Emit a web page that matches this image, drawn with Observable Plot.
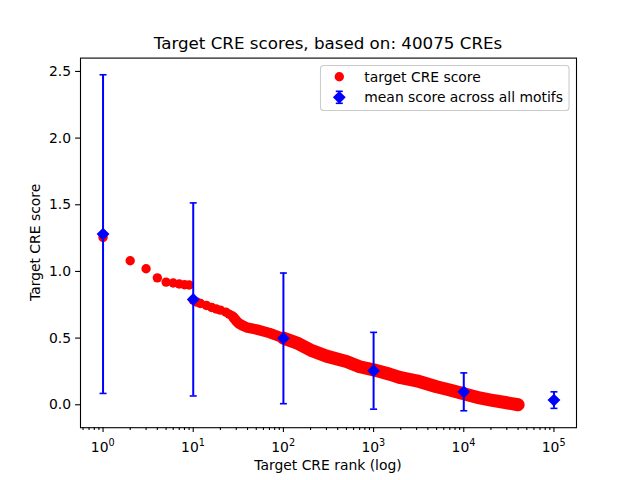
<!DOCTYPE html>
<html><head><meta charset="utf-8">
<script src="https://cdn.jsdelivr.net/npm/d3@7"></script>
<script src="https://cdn.jsdelivr.net/npm/@observablehq/plot@0.6"></script>
<style>body{margin:0;background:#fff}svg{display:block}</style>
</head><body><div id="chart"></div>
<script>
// Individually visible target CRE scores (rank, score)
const pointRanks  = [1, 2, 3, 4, 5, 6, 7, 8, 9, 10, 11, 12, 14, 16, 18, 20, 23, 25, 27, 28];
const pointScores = [1.255, 1.08, 1.02, 0.952, 0.92, 0.913, 0.906, 0.90, 0.898, 0.785, 0.77, 0.76, 0.745, 0.73, 0.718, 0.71, 0.695, 0.68, 0.668, 0.655];
// Dense part of the target CRE score curve (rank, score)
const headRanks  = [28, 30, 32, 35, 40, 50, 70, 100];
const headScores = [0.655, 0.63, 0.61, 0.595, 0.578, 0.565, 0.538, 0.50];
const tailRanks  = [100, 140, 200, 300, 500, 700, 1000, 1500, 2000, 3000, 5000, 7000, 10000, 15000, 20000, 30000, 40075];
const tailScores = [0.50, 0.465, 0.41, 0.365, 0.325, 0.285, 0.262, 0.23, 0.203, 0.18, 0.135, 0.111, 0.083, 0.051, 0.035, 0.015, 0.0];
// Mean score across all motifs with error (std)
const meanRanks  = [1, 10, 100, 1000, 10000, 100000];
const meanScores = [1.28, 0.79, 0.498, 0.255, 0.097, 0.035];
const meanErrors = [1.195, 0.724, 0.49, 0.288, 0.142, 0.062];
// Ticks
const yTicks = [0, 0.5, 1.0, 1.5, 2.0, 2.5];
const xMajor = [1, 10, 100, 1000, 10000, 100000];
const xExpLabels = ["0", "1", "2", "3", "4", "5"];
const xMinor = [0.6, 0.7, 0.8, 0.9].concat(
  ...[1, 10, 100, 1000, 10000].map(p => [2,3,4,5,6,7,8,9].map(m => m * p)));

const points = pointRanks.map((r, i) => ({rank: r, score: pointScores[i]}));
const head = headRanks.map((r, i) => ({rank: r, score: headScores[i]}));
const tail = tailRanks.map((r, i) => ({rank: r, score: tailScores[i]}));
const means = meanRanks.map((r, i) => ({rank: r, mean: meanScores[i], err: meanErrors[i]}));

const capSymbol = {draw(ctx) { ctx.moveTo(-3.5, 0); ctx.lineTo(3.5, 0); }};
const FONT = "DejaVu Sans";

const plot = Plot.plot({
  width: 640, height: 480,
  marginLeft: 80, marginRight: 64, marginTop: 57.6, marginBottom: 52.8,
  style: {fontFamily: FONT, fontSize: "13.9px", background: "white", color: "black", overflow: "visible"},
  x: {type: "log", domain: [Math.pow(10, -0.25), Math.pow(10, 5.25)]},
  y: {domain: [-0.172, 2.6]},
  marks: [
    Plot.line(head, {x: "rank", y: "score", stroke: "red", strokeWidth: 10.5, strokeLinecap: "round", strokeLinejoin: "round"}),
    Plot.line(tail, {x: "rank", y: "score", stroke: "red", strokeWidth: 13, strokeLinecap: "round", strokeLinejoin: "round"}),
    Plot.dot(points, {x: "rank", y: "score", r: 4.7, fill: "red"}),
    Plot.ruleX(means, {x: "rank", y1: d => d.mean - d.err, y2: d => d.mean + d.err, stroke: "blue", strokeWidth: 2}),
    Plot.dot(means, {x: "rank", y: d => d.mean - d.err, symbol: capSymbol, fill: "none", stroke: "blue", strokeWidth: 1.6}),
    Plot.dot(means, {x: "rank", y: d => d.mean + d.err, symbol: capSymbol, fill: "none", stroke: "blue", strokeWidth: 1.6}),
    Plot.dot(means, {x: "rank", y: "mean", symbol: "diamond2", r: 5.8, fill: "blue"}),
    Plot.frame({stroke: "black", strokeWidth: 1.1}),
    Plot.axisY({ticks: yTicks, tickSize: 4.9, tickPadding: 4.5, tickFormat: d3.format(".1f"), label: null, strokeWidth: 1.1}),
    Plot.axisX({ticks: xMajor, tickSize: 4.9, tickFormat: () => "", label: null, strokeWidth: 1.1}),
    Plot.axisX({ticks: xMinor, tickSize: 2.8, tickFormat: () => "", label: null, strokeWidth: 1.1}),
    Plot.text(xMajor, {x: d => d, frameAnchor: "bottom", text: () => "10", textAnchor: "end", lineAnchor: "top", dx: 5.5, dy: 14.9, fill: "black"}),
    Plot.text(xMajor, {x: d => d, frameAnchor: "bottom", text: (d, i) => xExpLabels[i], textAnchor: "start", lineAnchor: "top", dx: 5.5, dy: 11.5, fontSize: 9.7, fill: "black"})
  ]
});

const svg = d3.select(plot);
svg.append("text").attr("x", 328).attr("y", 49.3).attr("text-anchor", "middle")
  .attr("font-family", FONT).attr("font-size", "16.7px").attr("fill", "black")
  .text("Target CRE scores, based on: 40075 CREs");
svg.append("text").attr("x", 328).attr("y", 470).attr("text-anchor", "middle")
  .attr("font-family", FONT).attr("font-size", "13.9px").attr("fill", "black")
  .text("Target CRE rank (log)");
svg.append("text").attr("transform", "translate(39.5,242.4) rotate(-90)").attr("text-anchor", "middle")
  .attr("font-family", FONT).attr("font-size", "13.9px").attr("fill", "black")
  .text("Target CRE score");

// Legend
const lg = svg.append("g");
lg.append("rect").attr("x", 320.5).attr("y", 65.5).attr("width", 248.5).attr("height", 45).attr("rx", 3)
  .attr("fill", "white").attr("fill-opacity", 0.8).attr("stroke", "#cccccc").attr("stroke-width", 1.1);
lg.append("circle").attr("cx", 339.3).attr("cy", 76.7).attr("r", 4.7).attr("fill", "red");
lg.append("text").attr("x", 364.3).attr("y", 81.6).attr("text-anchor", "start").attr("font-family", FONT).attr("font-size", "13.9px").attr("fill", "black").text("target CRE score");
const ly = 97.3, lx = 339.3;
lg.append("line").attr("x1", lx).attr("x2", lx).attr("y1", ly - 6).attr("y2", ly + 6).attr("stroke", "blue").attr("stroke-width", 2);
lg.append("line").attr("x1", lx - 3.5).attr("x2", lx + 3.5).attr("y1", ly - 6).attr("y2", ly - 6).attr("stroke", "blue").attr("stroke-width", 1.6);
lg.append("line").attr("x1", lx - 3.5).attr("x2", lx + 3.5).attr("y1", ly + 6).attr("y2", ly + 6).attr("stroke", "blue").attr("stroke-width", 1.6);
lg.append("path").attr("d", `M${lx},${ly - 6.4}L${lx + 6.4},${ly}L${lx},${ly + 6.4}L${lx - 6.4},${ly}Z`).attr("fill", "blue");
lg.append("text").attr("x", 364.3).attr("y", 101.8).attr("text-anchor", "start").attr("font-family", FONT).attr("font-size", "13.9px").attr("fill", "black").text("mean score across all motifs");

document.getElementById("chart").appendChild(plot);
</script>
</body></html>
